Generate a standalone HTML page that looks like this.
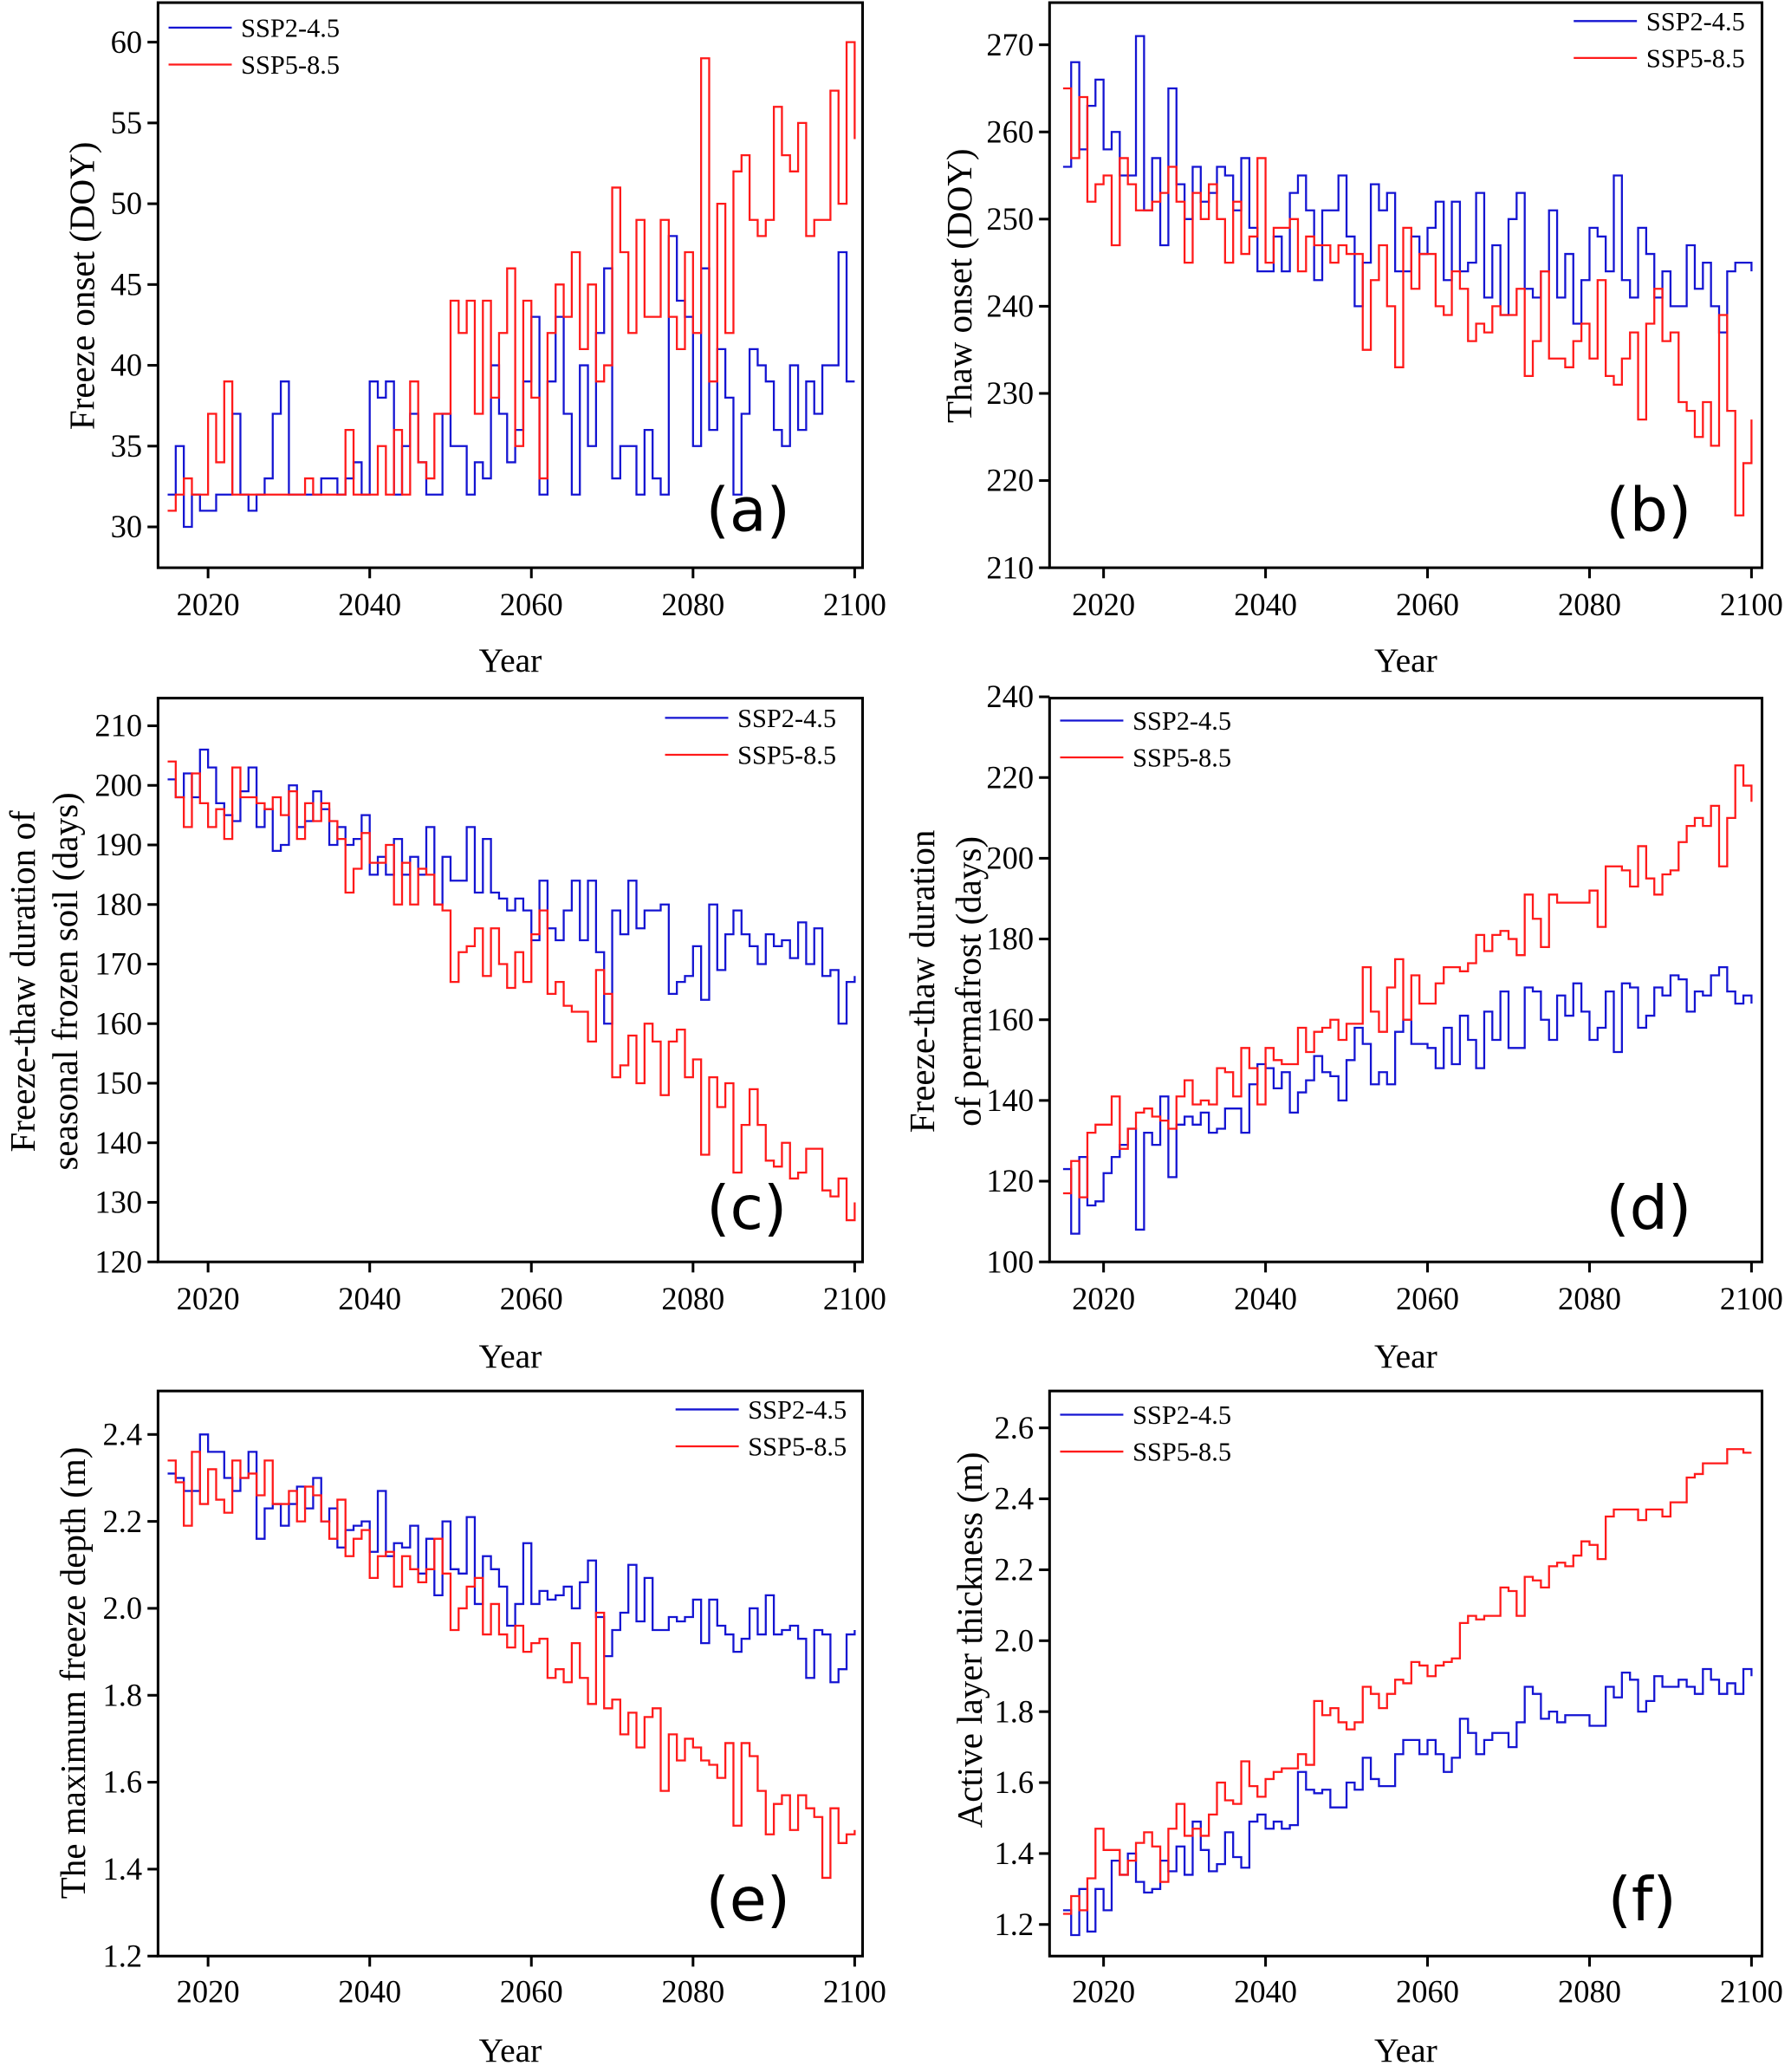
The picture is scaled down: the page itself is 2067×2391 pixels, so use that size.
<!DOCTYPE html>
<html><head><meta charset="utf-8">
<style>
html,body{margin:0;padding:0;background:#fff;}
svg{display:block;}
text{font-family:"Liberation Serif",serif;fill:#000;}
</style></head>
<body>
<svg id="fig" width="2067" height="2391" viewBox="0 0 1360 1573" preserveAspectRatio="none" xmlns="http://www.w3.org/2000/svg"></svg>
<script>
const years = [];
for (let y = 2015; y <= 2100; y++) years.push(y);
const xTicks = [2020, 2040, 2060, 2080, 2100];
const seriesNames = ["SSP2-4.5", "SSP5-8.5"];

const aBlue = [32,35,30,32,31,31,32,32,37,32, 31,32,33,37,39,32,32,32,32,33, 33,32,33,34,32,39,38,39,32,35, 37,34,32,32,37,35,35,32,34,33, 40,37,34,36,39,43,32,39,43,37, 32,40,35,42,46,33,35,35,32,36, 33,32,48,44,43,35,46,36,41,38, 32,37,41,40,39,36,35,40,36,39, 37,40,40,47,39,39];
const aRed = [31,32,33,32,32,37,34,39,32,32, 32,32,32,32,32,32,32,33,32,32, 32,32,36,32,32,32,35,32,36,32, 39,34,33,37,37,44,42,44,37,44, 38,42,46,35,44,38,33,42,45,43, 47,41,45,39,40,51,47,42,49,43, 43,49,43,41,47,42,59,39,50,42, 52,53,49,48,49,56,53,52,55,48, 49,49,57,50,60,54];
const aTicks = [30,35,40,45,50,55,60];

const bBlue = [256,268,258,263,266,258,260,255,255,271, 251,257,247,265,254,250,256,252,253,256, 255,251,257,249,244,244,248,244,253,255, 251,243,251,251,255,248,240,245,254,251, 253,244,244,248,246,249,252,243,252,244, 245,253,241,247,239,250,253,242,241,244, 251,241,246,238,243,249,248,244,255,243, 241,249,246,241,244,240,240,247,242,245, 240,237,244,245,245,244];
const bRed = [265,257,264,252,254,255,247,257,254,251, 251,252,253,256,252,245,253,250,254,250, 245,252,246,248,257,245,249,249,250,244, 248,247,247,245,247,246,246,235,243,247, 240,233,249,242,246,246,240,239,244,242, 236,238,237,240,239,239,242,232,236,244, 234,234,233,236,238,234,243,232,231,234, 237,227,238,242,236,237,229,228,225,229, 224,239,228,216,222,227];
const bTicks = [210,220,230,240,250,260,270];

const cBlue = [201,198,202,198,206,203,197,195,194,199, 203,193,196,189,190,200,193,194,199,196, 190,193,190,191,195,185,188,185,191,185, 188,185,193,180,188,184,184,193,182,191, 182,181,179,181,179,174,184,176,174,179, 184,174,184,172,160,179,175,184,176,179, 179,180,165,167,168,173,164,180,169,175, 179,175,173,170,175,173,174,171,177,170, 176,168,169,160,167,168];
const cRed = [204,198,193,202,197,193,196,191,203,198, 198,197,196,198,195,199,191,197,194,197, 194,191,182,186,192,187,187,190,180,187, 180,186,185,180,179,167,172,173,176,168, 176,170,166,172,167,175,179,165,167,163, 162,162,157,169,165,151,153,158,150,160, 157,148,157,159,151,154,138,151,146,150, 135,143,149,143,137,136,140,134,135,139, 139,132,131,134,127,130];
const cTicks = [120,130,140,150,160,170,180,190,200,210];

const dBlue = [123,107,126,114,115,122,126,129,133,108, 132,129,141,121,134,136,134,137,132,133, 138,138,132,144,149,148,143,147,137,142, 145,151,147,146,140,150,158,154,144,147, 144,157,160,154,154,153,148,158,149,161, 155,148,162,155,167,153,153,168,167,160, 155,166,161,169,162,155,158,167,152,169, 168,158,161,168,166,171,170,162,167,166, 171,173,167,164,166,164];
const dRed = [117,125,116,132,134,134,141,128,133,137, 138,136,135,133,141,145,139,140,139,148, 147,141,153,148,139,153,150,149,149,158, 152,157,158,160,155,159,159,173,162,157, 168,175,160,171,164,164,169,173,173,172, 174,181,177,181,182,180,176,191,185,178, 191,189,189,189,189,192,183,198,198,197, 193,203,195,191,196,197,204,208,210,208, 213,198,210,223,218,214];
const dTicks = [100,120,140,160,180,200,220,240];

const eBlue = [2.31,2.30,2.27,2.27,2.40,2.36,2.36,2.30,2.27,2.30, 2.36,2.16,2.23,2.24,2.19,2.24,2.28,2.23,2.30,2.20, 2.23,2.14,2.18,2.19,2.20,2.13,2.27,2.12,2.15,2.14, 2.19,2.08,2.16,2.03,2.20,2.09,2.08,2.21,2.01,2.12, 2.09,2.05,1.96,2.01,2.15,2.01,2.04,2.02,2.03,2.05, 2.00,2.06,2.11,1.98,1.89,1.95,1.99,2.10,1.97,2.07, 1.95,1.95,1.98,1.97,1.98,2.02,1.92,2.02,1.96,1.94, 1.90,1.93,2.00,1.94,2.03,1.94,1.95,1.96,1.93,1.84, 1.95,1.94,1.83,1.86,1.94,1.95];
const eRed = [2.34,2.29,2.19,2.36,2.24,2.32,2.25,2.22,2.34,2.30, 2.31,2.26,2.34,2.24,2.24,2.27,2.20,2.28,2.26,2.20, 2.16,2.25,2.12,2.16,2.18,2.07,2.12,2.13,2.05,2.12, 2.09,2.06,2.09,2.16,2.08,1.95,2.00,2.05,2.07,1.94, 2.01,1.94,1.91,1.96,1.90,1.92,1.93,1.84,1.86,1.83, 1.92,1.84,1.78,1.99,1.77,1.79,1.71,1.76,1.68,1.75, 1.77,1.58,1.71,1.65,1.70,1.68,1.65,1.64,1.61,1.69, 1.50,1.69,1.66,1.58,1.48,1.55,1.57,1.49,1.57,1.54, 1.52,1.38,1.54,1.46,1.48,1.49];
const eTicks = [1.2,1.4,1.6,1.8,2.0,2.2,2.4];

const fBlue = [1.24,1.17,1.30,1.18,1.30,1.24,1.38,1.34,1.40,1.32, 1.29,1.30,1.38,1.35,1.42,1.34,1.49,1.41,1.35,1.37, 1.46,1.39,1.36,1.49,1.51,1.47,1.49,1.47,1.48,1.63, 1.58,1.57,1.58,1.53,1.53,1.60,1.58,1.67,1.61,1.59, 1.59,1.68,1.72,1.72,1.68,1.72,1.68,1.63,1.67,1.78, 1.74,1.68,1.72,1.74,1.74,1.70,1.77,1.87,1.85,1.78, 1.80,1.77,1.79,1.79,1.79,1.76,1.76,1.87,1.84,1.91, 1.89,1.80,1.83,1.90,1.87,1.87,1.89,1.87,1.85,1.92, 1.89,1.85,1.88,1.85,1.92,1.90];
const fRed = [1.23,1.28,1.24,1.33,1.47,1.41,1.41,1.34,1.38,1.43, 1.46,1.42,1.32,1.47,1.54,1.45,1.47,1.45,1.51,1.60, 1.55,1.54,1.66,1.59,1.56,1.61,1.63,1.64,1.64,1.68, 1.65,1.83,1.79,1.81,1.77,1.75,1.77,1.87,1.85,1.81, 1.85,1.89,1.88,1.94,1.93,1.90,1.93,1.94,1.95,2.05, 2.07,2.06,2.07,2.07,2.15,2.14,2.07,2.18,2.17,2.15, 2.21,2.22,2.21,2.24,2.28,2.27,2.23,2.35,2.37,2.37, 2.37,2.34,2.37,2.37,2.35,2.39,2.39,2.46,2.47,2.50, 2.50,2.50,2.54,2.54,2.53,2.53];
const fTicks = [1.2,1.4,1.6,1.8,2.0,2.2,2.4,2.6];

const NS = "http://www.w3.org/2000/svg";
const svg = document.getElementById("fig");
function mk(tag, attrs, parent) {
  const e = document.createElementNS(NS, tag);
  for (const k in attrs) e.setAttribute(k, attrs[k]);
  (parent || svg).appendChild(e);
  return e;
}

const panels = [
  {id:"a", blue:aBlue, red:aRed, ticks:aTicks, dec:0,
   box:[120,2,655,431], yA:[60,32], yB:[30,400], xA:[2020,158], xB:[2100,649],
   ylab:["Freeze onset (DOY)"], ylabX:[62], ylabY:217, legX:128, legY:21, tag:[568,403], tickY:467, yearY:510},
  {id:"b", blue:bBlue, red:bRed, ticks:bTicks, dec:0,
   box:[797,2,1338,431], yA:[270,34], yB:[210,431], xA:[2020,838], xB:[2100,1330],
   ylab:["Thaw onset (DOY)"], ylabX:[728], ylabY:217, legX:1195, legY:16, tag:[1252,403], tickY:467, yearY:510},
  {id:"c", blue:cBlue, red:cRed, ticks:cTicks, dec:0,
   box:[120,530,655,958], yA:[210,551], yB:[120,958], xA:[2020,158], xB:[2100,649],
   ylab:["Freeze-thaw duration of","seasonal frozen soil (days)"], ylabX:[17,49], ylabY:745, legX:505, legY:545, tag:[567,933], tickY:994, yearY:1038},
  {id:"d", blue:dBlue, red:dRed, ticks:dTicks, dec:0,
   box:[797,530,1338,958], yA:[240,529], yB:[100,958], xA:[2020,838], xB:[2100,1330],
   ylab:["Freeze-thaw duration","of permafrost (days)"], ylabX:[700,735], ylabY:745, legX:805, legY:547, tag:[1252,933], tickY:994, yearY:1038},
  {id:"e", blue:eBlue, red:eRed, ticks:eTicks, dec:1,
   box:[120,1056,655,1485], yA:[2.4,1089], yB:[1.2,1485], xA:[2020,158], xB:[2100,649],
   ylab:["The maximum freeze depth (m)"], ylabX:[55], ylabY:1270, legX:513, legY:1070, tag:[568,1458], tickY:1520, yearY:1565},
  {id:"f", blue:fBlue, red:fRed, ticks:fTicks, dec:1,
   box:[797,1056,1338,1485], yA:[2.6,1084], yB:[1.2,1461], xA:[2020,838], xB:[2100,1330],
   ylab:["Active layer thickness (m)"], ylabX:[736], ylabY:1245, legX:805, legY:1074, tag:[1247,1458], tickY:1520, yearY:1565}
];

panels.forEach(p => {
  const g = mk("g", {});
  
  
  const X = yr => p.xA[1] + (yr - p.xA[0]) * (p.xB[1] - p.xA[1]) / (p.xB[0] - p.xA[0]);
  const Y = v => p.yA[1] + (v - p.yA[0]) * (p.yB[1] - p.yA[1]) / (p.yB[0] - p.yA[0]);
  const [x0,y0,x1,y1] = p.box;

  [[p.blue,"#1414d2","ssp2-4.5-line"],[p.red,"#ff1a1a","ssp5-8.5-line"]].forEach(([arr,col,nm]) => {
    let d = "M" + X(years[0]).toFixed(2) + "," + Y(arr[0]).toFixed(2);
    for (let i = 1; i < arr.length; i++) {
      d += "H" + X(years[i]).toFixed(2) + "V" + Y(arr[i]).toFixed(2);
    }
    const path = mk("path", {d:d, fill:"none", stroke:col, "stroke-width":1.5, "stroke-linejoin":"miter"}, g);
    
    
  });

  const frame = mk("rect", {x:x0, y:y0, width:x1-x0, height:y1-y0, fill:"none", stroke:"#000", "stroke-width":2}, g);
  
  

  p.ticks.forEach(t => {
    const yy = Y(t);
    const tk = mk("line", {x1:x0-8, x2:x0, y1:yy, y2:yy, stroke:"#000", "stroke-width":2}, g);
    
    
    const lb = mk("text", {x:x0-12, y:yy+8, "text-anchor":"end", "font-size":24}, g);
    lb.textContent = t.toFixed(p.dec);
    
    
  });
  xTicks.forEach(t => {
    const xx = X(t);
    const tk = mk("line", {x1:xx, x2:xx, y1:y1, y2:y1+8, stroke:"#000", "stroke-width":2}, g);
    
    
    const lb = mk("text", {x:xx, y:p.tickY, "text-anchor":"middle", "font-size":24}, g);
    lb.textContent = t;
    
    
  });
  const xt = mk("text", {x:(x0+x1)/2, y:p.yearY, "text-anchor":"middle", "font-size":26}, g);
  xt.textContent = "Year";
  
  
  p.ylab.forEach((s, i) => {
    const cx = p.ylabX[i];
    const yt = mk("text", {x:cx, y:p.ylabY, "text-anchor":"middle", "font-size":27, transform:"rotate(-90 " + cx + " " + p.ylabY + ")", dy:"0.35em"}, g);
    yt.textContent = s;
    
    
  });
  [["#1414d2",0],["#ff1a1a",1]].forEach(([col,i]) => {
    const ly = p.legY + i * 28;
    const ln = mk("line", {x1:p.legX, x2:p.legX+48, y1:ly, y2:ly, stroke:col, "stroke-width":1.5}, g);
    
    
    const lt = mk("text", {x:p.legX+55, y:ly+7, "font-size":20}, g);
    lt.textContent = seriesNames[i];
    
    
  });
  const tg = mk("text", {x:p.tag[0], y:p.tag[1], "text-anchor":"middle", "font-size":46, style:"font-family:'DejaVu Sans','Liberation Sans',sans-serif"}, g);
  tg.textContent = "(" + p.id + ")";
  
  
});
</script>
</body></html>
